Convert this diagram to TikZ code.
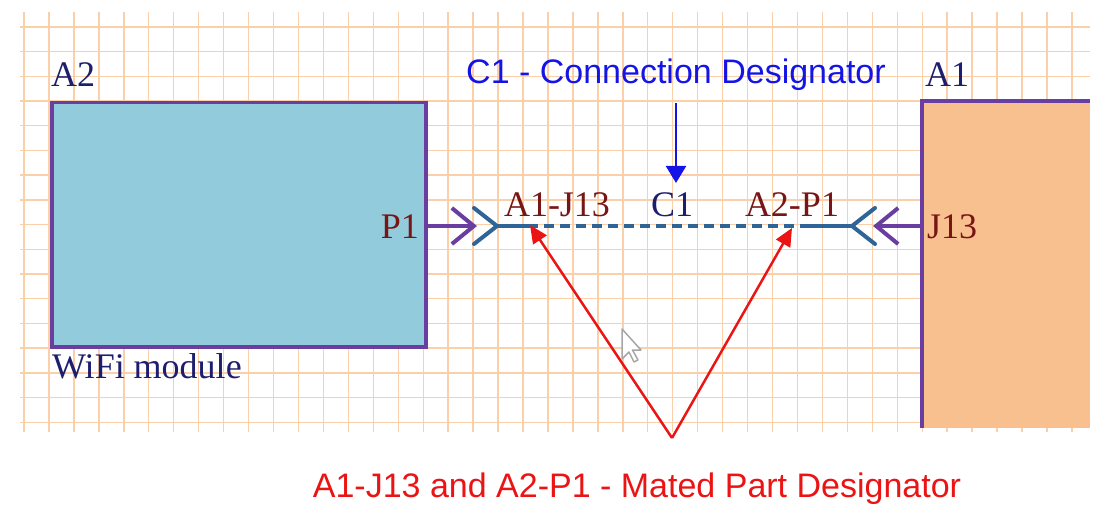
\documentclass[tikz,border=0pt]{standalone}
\usepackage{fontspec}
\setmainfont{Liberation Serif}
\newfontfamily\notefont{Liberation Sans}
\usetikzlibrary{arrows.meta,calc}
\definecolor{gridorange}{RGB}{251,208,168}
\definecolor{partpurple}{RGB}{106,61,160}
\definecolor{wifiblue}{RGB}{146,203,220}
\definecolor{hostorange}{RGB}{249,192,143}
\definecolor{refnavy}{RGB}{30,30,110}
\definecolor{pinred}{RGB}{120,22,22}
\definecolor{connblue}{RGB}{46,100,150}
\definecolor{noteblue}{RGB}{20,20,230}
\definecolor{notered}{RGB}{235,20,20}
\tikzset{
  gridln/.style={draw=gridorange, line width=1.4pt},
  part/.style={draw=partpurple, line width=3.5pt},
  pin/.style={draw=partpurple, line width=4pt, -{Straight Barb[length=22pt,width=36pt]}},
  conn/.style={draw=connblue, line width=4pt, line cap=round},
  lbl/.style={font=\fontsize{36}{42}\selectfont, inner sep=0pt},
  reflbl/.style={lbl, text=refnavy},
  pinlbl/.style={lbl, text=pinred},
  note/.style={font=\notefont\fontsize{34}{40}\selectfont, inner sep=0pt},
  bluearr/.style={draw=noteblue, line width=2.2pt, -{Triangle[length=17pt,width=20pt]}},
  redarr/.style={draw=notered, line width=2.5pt, -{Triangle[length=18pt,width=16pt]}}
}
\begin{document}
\begin{tikzpicture}[x=1pt,y=-1pt]
\useasboundingbox (0,0) rectangle (1097,505);
% grid
\foreach \k in {0,...,42} \draw[gridln] ({24+24.95*\k},12) -- ({24+24.95*\k},432);
\foreach \k in {0,...,16} \draw[gridln] (20,{27+24.7*\k}) -- (1090,{27+24.7*\k});

% parts
\node[part, fill=wifiblue, minimum width=374pt, minimum height=244pt, inner sep=0pt, anchor=north west] (a2) at (50,101) {};
\node[fill=hostorange, minimum width=168pt, minimum height=327pt, inner sep=0pt, anchor=north west] (a1) at (922,101) {};
\draw[part] (a1.south west) -- (a1.north west) -- (a1.north east);
\node[reflbl, anchor=base west] (a2ref) at (51,87) {A2};
\node[reflbl, anchor=base west] (a2name) at (52,378) {WiFi module};
\node[reflbl, anchor=base west] (a1ref) at (925,87) {A1};

% pins
\coordinate (p1tip) at (477,226);
\coordinate (j13tip) at (873,226);
\draw[pin] (a2.east |- p1tip) -- (p1tip);
\draw[pin] (a1.west |- j13tip) -- (j13tip);
\node[pinlbl, anchor=base east] (p1lbl) at (419,238) {P1};
\node[pinlbl, anchor=base west] (j13lbl) at (927,238) {J13};

% connection C1
\coordinate (cL) at (497,226); \coordinate (cR) at (852,226);
\coordinate (dL) at (528,226); \coordinate (dR) at (810,226);
\draw[conn] ($(cL)+(-23,-18)$) -- (cL) -- ($(cL)+(-23,18)$);
\draw[conn] ($(cR)+(23,-18)$) -- (cR) -- ($(cR)+(23,18)$);
\draw[conn] (cL) -- (dL); \draw[conn] (dR) -- (cR);
\draw[conn, line cap=butt, dash pattern=on 10pt off 6pt] (dL) -- (dR);
\node[pinlbl, anchor=base] (matej13) at (557,216) {A1-J13};
\node[reflbl, anchor=base] (c1) at (672,216) {C1};
\node[pinlbl, anchor=base] (matep1) at (792,216) {A2-P1};

% notes
\node[note, text=noteblue, anchor=base] (cdnote) at (676,84) {C1 - Connection Designator};
\node[note, text=notered, anchor=base] (mpnote) at (637,497) {A1-J13 and A2-P1 - Mated Part Designator};
\coordinate (cdtip) at (676,183);
\coordinate (mpapex) at (672,438);
\coordinate (j13pt) at (530,225);
\coordinate (p1pt) at (792,228);
\draw[bluearr, shorten <=12pt] (cdnote.south) -- (cdtip);
\draw[redarr] (mpapex) -- (j13pt);
\draw[redarr] (mpapex) -- (p1pt);

% mouse pointer
\draw[gray!70, fill=white, line width=1.5pt, line join=round] (622,329) -- ++(0,30) -- ++(7,-7) -- ++(5,10) -- ++(4,-2) -- ++(-5.5,-10) -- ++(8.5,0) -- cycle;
\end{tikzpicture}
\end{document}
